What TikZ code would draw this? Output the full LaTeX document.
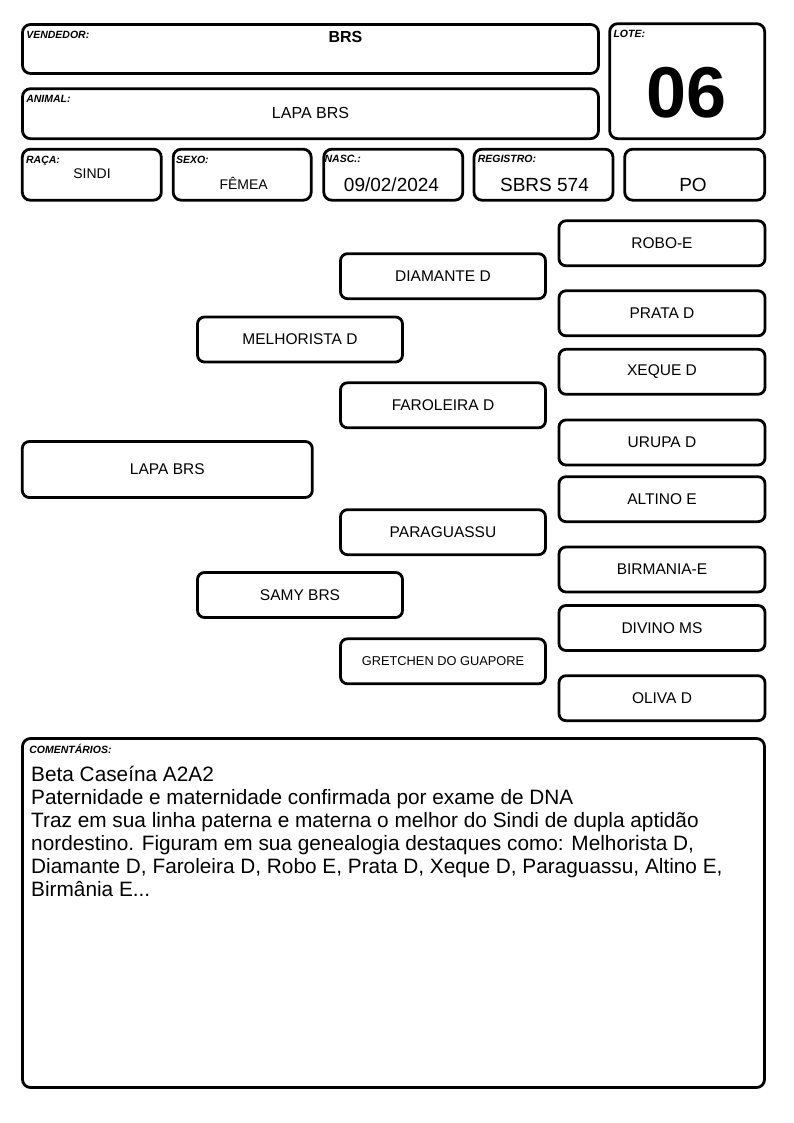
\documentclass[tikz,border=0pt]{standalone}
\usepackage{fontspec}
\setmainfont{Liberation Sans}
\usetikzlibrary{positioning, calc}

\begin{document}
\begin{tikzpicture}[x=1pt, y=-1pt,
            field/.style={draw, line width=2.8pt, rounded corners=8pt, inner sep=0pt},
            tag/.style={anchor=base west, inner sep=0pt, font=\fontsize{10.5}{12}\selectfont\bfseries\itshape},
            value/.style={anchor=base, inner sep=0pt, font=\fontsize{14}{16}\selectfont},
            bigvalue/.style={anchor=base, inner sep=0pt, font=\fontsize{19}{22}\selectfont},
            ancestor/.style={draw, line width=2.8pt, rounded corners=7pt, minimum width=205pt, minimum height=45pt,
                inner sep=0pt, font=\fontsize{15.5}{18}\selectfont}]

            \useasboundingbox (0,0) rectangle (794,1123);

            % Header fields
            \node[field, minimum width=576pt, minimum height=49pt] (vendedor) at (310.5,49) {};
            \node[field, minimum width=155pt, minimum height=115pt] (lote) at (687.2,81.2) {};
            \node[field, minimum width=576pt, minimum height=50pt] (animal) at (310.5,113.7) {};
            \node[field, minimum width=139pt, minimum height=51pt] (raca) at (91.8,174.7) {};
            \node[field, minimum width=138pt, minimum height=51pt] (sexo) at (242.2,174.7) {};
            \node[field, minimum width=139pt, minimum height=51pt] (nasc) at (393.3,174.7) {};
            \node[field, minimum width=139pt, minimum height=51pt] (registro) at (543.5,174.7) {};
            \node[field, minimum width=140pt, minimum height=51pt] (po) at (694.7,174.7) {};

            % Field captions
            \node[tag] (vendedor-tag) at ([shift={(5,15.5)}]vendedor.north west) {VENDEDOR:};
            \node[tag] (lote-tag) at ([shift={(5,15.5)}]lote.north west) {LOTE:};
            \node[tag] (animal-tag) at ([shift={(5,15.5)}]animal.north west) {ANIMAL:};
            \node[tag] (raca-tag) at ([shift={(5,15.5)}]raca.north west) {RAÇA:};
            \node[tag] (sexo-tag) at ([shift={(4,15.5)}]sexo.north west) {SEXO:};
            \node[tag] (nasc-tag) at ([shift={(2,14.5)}]nasc.north west) {NASC.:};
            \node[tag] (registro-tag) at ([shift={(5,14.5)}]registro.north west) {REGISTRO:};

            % Field values
            \node[anchor=base, inner sep=0pt, font=\fontsize{16}{18}\selectfont\bfseries] (vendedor-val) at (345.5,42.7) {BRS};
            \node[anchor=base, inner sep=0pt, font=\fontsize{72}{80}\selectfont\bfseries] (lote-val) at (686.5,118) {06};
            \node[anchor=base, inner sep=0pt, font=\fontsize{16}{18}\selectfont] (animal-val) at (310.5,119) {LAPA BRS};
            \node[value] (raca-val) at (92,178.3) {SINDI};
            \node[value] (sexo-val) at (243.7,189.3) {FÊMEA};
            \node[bigvalue] (nasc-val) at (391.5,191.7) {09/02/2024};
            \node[bigvalue] (registro-val) at (544.5,191.7) {SBRS 574};
            \node[bigvalue] (po-val) at (693,191.7) {PO};

            % Pedigree
            \node[ancestor, minimum width=290pt, minimum height=56pt] (lapa) at (167.3,469.5) {LAPA BRS};
            \node[ancestor] (pai) at (300,339.5) {MELHORISTA D};
            \node[ancestor] (mae) at (300,595) {SAMY BRS};
            \node[ancestor] (avo-pp) at (443,276.2) {DIAMANTE D};
            \node[ancestor] (avo-pm) at (443,405.3) {FAROLEIRA D};
            \node[ancestor] (avo-mp) at (443,532.2) {PARAGUASSU};
            \node[ancestor, font=\fontsize{12.8}{15}\selectfont] (avo-mm) at (443,661.3) {GRETCHEN DO GUAPORE};
            \node[ancestor, minimum width=206pt] (bis-1) at (662,243.3) {ROBO-E};
            \node[ancestor, minimum width=206pt] (bis-2) at (662,313.3) {PRATA D};
            \node[ancestor, minimum width=206pt] (bis-3) at (662,371.8) {XEQUE D};
            \node[ancestor, minimum width=206pt] (bis-4) at (662,442.5) {URUPA D};
            \node[ancestor, minimum width=206pt] (bis-5) at (662,499.2) {ALTINO E};
            \node[ancestor, minimum width=206pt] (bis-6) at (662,569.5) {BIRMANIA-E};
            \node[ancestor, minimum width=206pt] (bis-7) at (662,628) {DIVINO MS};
            \node[ancestor, minimum width=206pt] (bis-8) at (662,698.2) {OLIVA D};

            % Comments
            \node[field, minimum width=742pt, minimum height=349pt] (comentarios) at (393.5,913) {};
            \node[tag] (comentarios-tag) at ([shift={(8,16)}]comentarios.north west) {COMENTÁRIOS:};
            % base of a multi-line node is the last line's baseline
            \node[anchor=base west, inner sep=0pt, align=left, font=\fontsize{20.8}{23}\selectfont] (comentarios-txt) at (31,896.7)
                {Beta Caseína A2A2\\
                Paternidade e maternidade confirmada por exame de DNA\\
                Traz em sua linha paterna e materna o melhor do Sindi de dupla aptidão\\
                nordestino. Figuram em sua genealogia destaques como: Melhorista D,\\
                Diamante D, Faroleira D, Robo E, Prata D, Xeque D, Paraguassu, Altino E,\\
                Birmânia E...};
        \end{tikzpicture}
\end{document}
